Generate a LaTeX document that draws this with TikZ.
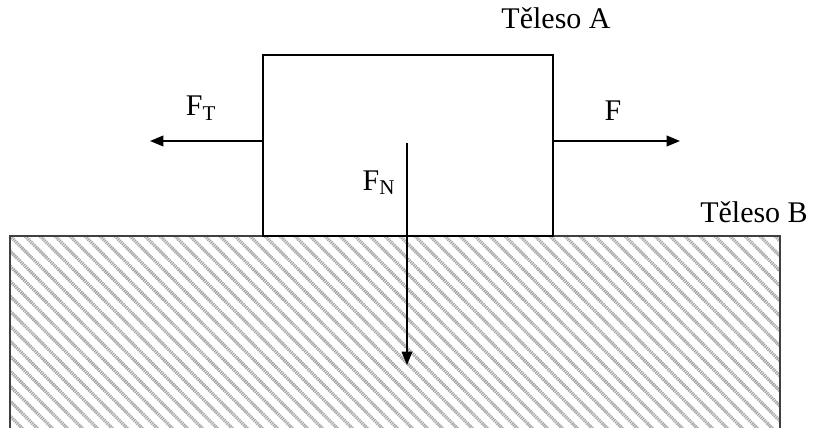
\documentclass[tikz,border=0pt]{standalone}
\usepackage{fontspec}
\setmainfont{Liberation Serif}
\usetikzlibrary{arrows.meta,calc,positioning}
\tikzset{
  every node/.style={font=\fontsize{22.5}{26}\selectfont, inner sep=0pt},
  label/.style={anchor=base},
  body/.style={draw=black, line width=1.2pt, fill=white, inner sep=0pt},
  ground/.style={draw=black!75, line width=0.9pt},
  hatch/.style={draw=black!35, line width=2.4pt, dash pattern=on 1pt off 0.6pt},
  force/.style={-{Triangle[length=10pt,width=8pt]}, draw=black, line width=1.2pt},
}
\begin{document}
\begin{tikzpicture}[x=0.75pt,y=-0.75pt]
  \useasboundingbox (0,0) rectangle (814,428);
  % Body B: hatched ground block
  \begin{scope}
    \clip (10,236) rectangle (780,428);
    \foreach \s in {-200,-185,...,780}
      \draw[hatch] (\s,236) -- ++(200,200);
  \end{scope}
  \draw[ground] (10,428) -- (10,236) -- (780,236) -- (780,428);
  % Body A
  \node[body, minimum width=217.5pt, minimum height=135.75pt] (bodyA) at (408,145.5) {};
  % Force end points
  \coordinate (fEnd) at (680,141);
  \coordinate (tEnd) at (150,141);
  \coordinate (nTop) at (407,143);
  \coordinate (nEnd) at (407,365);
  % Forces
  \draw[force] (bodyA.east |- fEnd) -- (fEnd);
  \draw[force] (bodyA.west |- tEnd) -- (tEnd);
  \draw[force, line width=1pt] (nTop) -- (nEnd);
  % Labels
  \node[label] (labF) at (613,120) {F};
  \node[label] (labT) at (201,116) {F\textsubscript{T}};
  \node[label] (labN) at (379,190) {F\textsubscript{N}};
  \node[label] (labA) at (556,29) {Těleso A};
  \node[label] (labB) at (754,222) {Těleso B};
\end{tikzpicture}
\end{document}
